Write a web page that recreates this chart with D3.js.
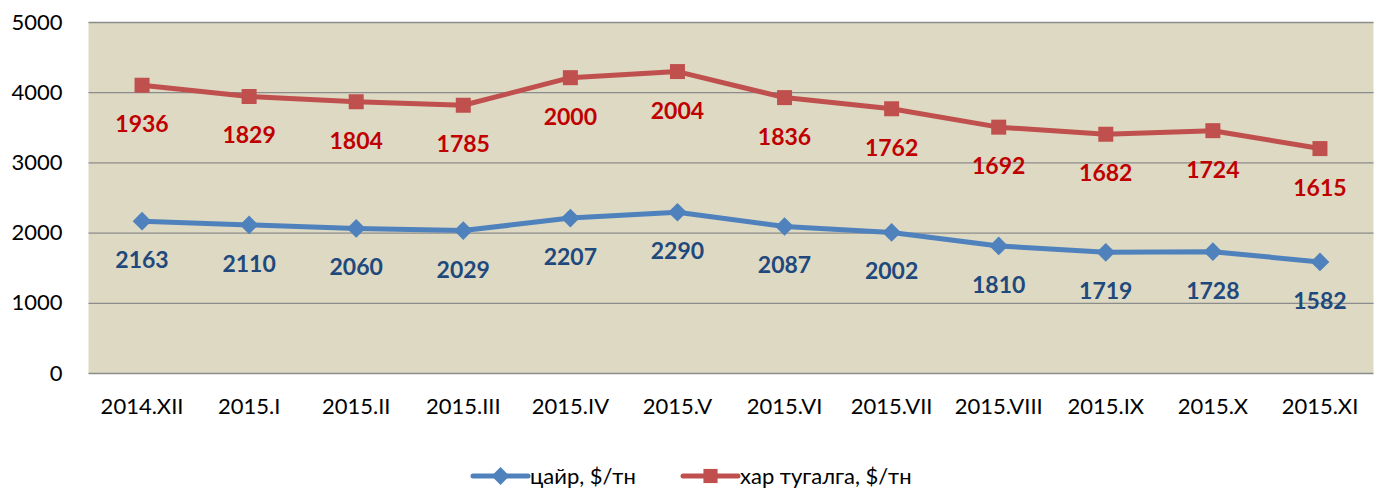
<!DOCTYPE html>
<html>
<head>
<meta charset="utf-8">
<title>цайр / хар тугалга</title>
<script src="https://cdn.jsdelivr.net/npm/d3@7"></script>
<style>
body { margin: 0; background: #fff; }
svg, svg text { font-family: Lato, "Open Sans", sans-serif; }
</style>
</head>
<body>
<svg id="chart" width="1379" height="492"></svg>
<script>
var months = ['2014.XII', '2015.I', '2015.II', '2015.III', '2015.IV', '2015.V',
  '2015.VI', '2015.VII', '2015.VIII', '2015.IX', '2015.X', '2015.XI'];
var zinc = [2163, 2110, 2060, 2029, 2207, 2290, 2087, 2002, 1810, 1719, 1728, 1582];
var lead = [1936, 1829, 1804, 1785, 2000, 2004, 1836, 1762, 1692, 1682, 1724, 1615];
var yTicks = [0, 1000, 2000, 3000, 4000, 5000];
var names = ['цайр, $/тн', 'хар тугалга, $/тн'];

var svg = d3.select('#chart');
var plotLeft = 88.5, plotRight = 1373.5, plotTop = 22, plotBottom = 373;

var x = d3.scaleBand().domain(months).range([plotLeft, plotRight]);
var y = d3.scaleLinear().domain([0, 5000]).range([plotBottom, plotTop]);

// lead is stacked on top of zinc
var series = [
  { name: names[0], vals: zinc, tops: zinc.slice(), line: '#4F81BD', text: '#1F497D', shape: 'diamond' },
  { name: names[1], vals: lead, tops: lead.map(function(v, i) { return v + zinc[i]; }),
    line: '#C0504D', text: '#C00000', shape: 'square' }
];

// diamond = square turned 45 degrees, like the excel marker
var marker = function(shape, size) {
  return d3.symbol().type(d3.symbolSquare).size(size)();
};
var markerRot = function(shape) { return shape === 'diamond' ? ' rotate(45)' : ''; };

svg.append('rect')
  .attr('x', plotLeft).attr('y', plotTop)
  .attr('width', plotRight - plotLeft).attr('height', plotBottom - plotTop)
  .attr('fill', '#DDD9C3');

var yAxis = svg.append('g')
  .attr('transform', 'translate(' + plotLeft + ',0)')
  .call(d3.axisLeft(y).tickValues(yTicks).tickFormat(d3.format('d'))
    .tickSize(-(plotRight - plotLeft)).tickPadding(26));
yAxis.attr('font-family', null).attr('font-size', null);
yAxis.select('.domain').remove();
yAxis.selectAll('line').attr('stroke', '#8C8C8C').attr('stroke-width', 1.3);
yAxis.selectAll('text').attr('font-size', 22).attr('fill', '#000');

var xAxis = svg.append('g')
  .attr('transform', 'translate(0,' + plotBottom + ')')
  .call(d3.axisBottom(x).tickSize(0).tickPadding(25));
xAxis.attr('font-family', null).attr('font-size', null);
xAxis.select('.domain').remove();
xAxis.selectAll('text').attr('font-size', 22).attr('fill', '#000');

var cx = function(d, i) { return x(months[i]) + x.bandwidth() / 2; };
var line = d3.line().x(cx).y(function(d) { return y(d); });

series.forEach(function(s) {
  svg.append('path')
    .attr('d', line(s.tops))
    .attr('fill', 'none')
    .attr('stroke', s.line)
    .attr('stroke-width', 5)
    .attr('stroke-linejoin', 'round');

  svg.append('g').selectAll('path')
    .data(s.tops).enter().append('path')
    .attr('d', marker(s.shape, s.shape === 'diamond' ? 175 : 225))
    .attr('transform', function(d, i) {
      return 'translate(' + cx(d, i) + ',' + y(d) + ')' + markerRot(s.shape);
    })
    .attr('fill', s.line);

  svg.append('g').selectAll('text')
    .data(s.vals).enter().append('text')
    .attr('x', function(d, i) { return cx(d, i); })
    .attr('y', function(d, i) { return y(s.tops[i]) + 47; })
    .attr('text-anchor', 'middle')
    .attr('font-size', 23)
    .attr('font-weight', 'bold')
    .attr('fill', s.text)
    .text(function(d) { return d; });
});

// legend
var legendX = [473, 683];
series.forEach(function(s, i) {
  var g = svg.append('g').attr('transform', 'translate(' + legendX[i] + ',476)');
  g.append('line').attr('x1', 0).attr('x2', 55)
    .attr('stroke', s.line).attr('stroke-width', 5).attr('stroke-linecap', 'round');
  g.append('path')
    .attr('d', marker(s.shape, s.shape === 'diamond' ? 160 : 200))
    .attr('transform', 'translate(27.5,0)' + markerRot(s.shape))
    .attr('fill', s.line);
  g.append('text').attr('x', 57).attr('y', 8)
    .attr('font-size', 22).attr('fill', '#000')
    .text(s.name);
});
</script>
</body>
</html>
